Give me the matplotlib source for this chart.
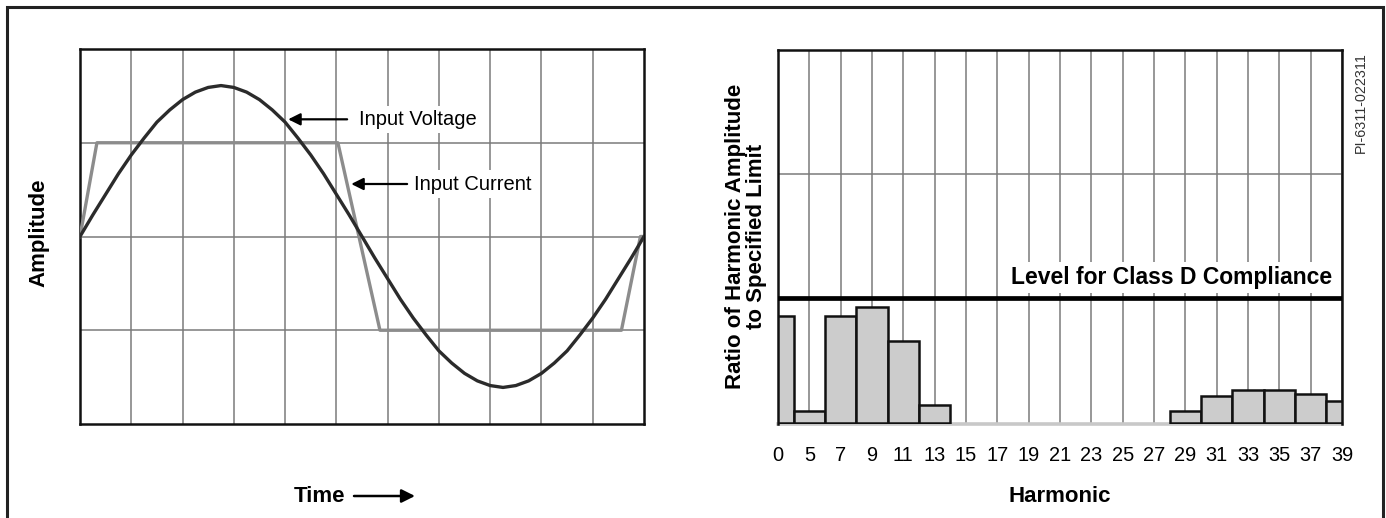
import numpy as np
import matplotlib
matplotlib.use("Agg")
import matplotlib.pyplot as plt
from matplotlib.lines import Line2D

plt.rcParams['font.family'] = ['Liberation Sans', 'DejaVu Sans']

W, H = 1386, 518

# --- left panel: waveforms (time in grid divisions, amplitude in divisions)
t_volt = np.arange(0, 11.01, 0.25)
v_volt = [0.00, 0.23, 0.45, 0.67, 0.87, 1.05, 1.22, 1.35, 1.46, 1.54, 1.59,
          1.61, 1.59, 1.54, 1.46, 1.35, 1.22, 1.05, 0.87, 0.67, 0.45, 0.23,
          0.00, -0.23, -0.45, -0.67, -0.87, -1.05, -1.22, -1.35, -1.46, -1.54,
          -1.59, -1.61, -1.59, -1.54, -1.46, -1.35, -1.22, -1.05, -0.87, -0.67,
          -0.45, -0.23, 0.00]
t_curr = [0.0, 0.33, 5.03, 5.85, 10.56, 10.93, 11.0]
i_curr = [0.0, 1.0, 1.0, -1.0, -1.0, 0.0, 0.0]

# --- right panel: harmonic content vs. class D limit
harm_labels = ['0', '5', '7', '9', '11', '13', '15', '17', '19', '21', '23',
               '25', '27', '29', '31', '33', '35', '37', '39']
harm_ratio = [0.86, 0.09, 0.86, 0.93, 0.66, 0.14, 0, 0, 0, 0, 0, 0, 0,
              0.09, 0.21, 0.26, 0.26, 0.23, 0.17]
class_d_limit = 1.0


def fx(x):
    return x / W


def fy(y):
    return 1 - y / H


fig = plt.figure(figsize=(W / 100, H / 100), dpi=100)

# left axes
ax1 = fig.add_axes([fx(80), fy(424), 564 / W, 375 / H])
ax1.set_xlim(0, 11)
ax1.set_ylim(-2, 2)
ax1.set_xticks(np.arange(1, 11))
ax1.set_yticks([-1, 0, 1])
ax1.grid(True, color='#7a7a7a', lw=1.1)
ax1.tick_params(length=0, labelbottom=False, labelleft=False)
for s in ax1.spines.values():
    s.set_linewidth(1.8)
    s.set_color('#111111')

ax1.plot(t_curr, i_curr, color='#8c8c8c', lw=2.4, zorder=3)
ax1.plot(t_volt, v_volt, color='#2b2b2b', lw=2.4, zorder=4)

arrow = dict(arrowstyle='-|>', color='black', lw=1.6, mutation_scale=18,
             shrinkA=0, shrinkB=0)
ax1.annotate('', xy=(4.06, 1.25), xytext=(5.21, 1.25), arrowprops=arrow, zorder=5)
ax1.text(5.44, 1.25, 'Input Voltage', ha='left', va='center', fontsize=14.5,
         bbox=dict(fc='white', ec='none', pad=3), zorder=5)
ax1.annotate('', xy=(5.29, 0.56), xytext=(6.38, 0.56), arrowprops=arrow, zorder=5)
ax1.text(6.51, 0.56, 'Input Current', ha='left', va='center', fontsize=14.5,
         bbox=dict(fc='white', ec='none', pad=3), zorder=5)

# right axes
ax2 = fig.add_axes([fx(778), fy(424), 564 / W, 374 / H])
pos = np.arange(len(harm_labels))
ratio = np.array(harm_ratio)
has_bar = ratio > 0
ax2.bar(pos[has_bar], ratio[has_bar], width=1.0, color='#cccccc',
        edgecolor='#111111', lw=1.8, zorder=2)
ax2.set_xlim(0, len(harm_labels) - 1)
ax2.set_ylim(-0.012, 3)
ax2.set_xticks(pos)
ax2.set_xticklabels(harm_labels, fontsize=14.4)
ax2.set_yticks([2])
ax2.set_axisbelow(True)
ax2.grid(True, color='#7a7a7a', lw=1.1)
ax2.tick_params(length=0, labelleft=False)
ax2.tick_params(axis='x', pad=16)
for s in ax2.spines.values():
    s.set_linewidth(1.8)
    s.set_color('#111111')
ax2.spines['bottom'].set_color('#c8c8c8')
ax2.spines['bottom'].set_linewidth(2.6)
ax2.spines['bottom'].set_zorder(1.5)

ax2.axhline(class_d_limit, color='black', lw=3.4, zorder=5)
ax2.text(17.68, 1.17, 'Level for Class D Compliance', ha='right', va='center',
         fontsize=16.5, fontweight='bold',
         bbox=dict(fc='white', ec='none', pad=3), zorder=4)

# labels
bold = dict(fontsize=16, fontweight='bold', color='black')
fig.text(fx(39), fy(233), 'Amplitude', rotation=90, ha='center', va='center', **bold)
fig.text(fx(345), fy(496), 'Time', ha='right', va='center', **bold)
ax1.annotate('', xy=(fx(415), fy(496)), xytext=(fx(354), fy(496)),
             xycoords='figure fraction', textcoords='figure fraction',
             arrowprops=dict(arrowstyle='-|>', color='black', lw=1.8,
                             mutation_scale=20, shrinkA=0, shrinkB=0),
             annotation_clip=False)
fig.text(fx(1060), fy(497), 'Harmonic', ha='center', va='center', **bold)
fig.text(fx(746), fy(236), 'Ratio of Harmonic Amplitude\nto Specified Limit',
         rotation=90, ha='center', va='center', multialignment='center',
         linespacing=0.95, **bold)
fig.text(fx(1361), fy(52), 'PI-6311-022311', rotation=90, ha='center', va='top',
         fontsize=10.3, color='#333333')

# outer frame (open at the bottom)
fig.add_artist(Line2D([fx(7), fx(7), fx(1383), fx(1383)], [0, fy(7), fy(7), 0],
                      transform=fig.transFigure, color='#222222', lw=2.2,
                      solid_joinstyle='miter'))

fig.savefig('out.png', dpi=100)
